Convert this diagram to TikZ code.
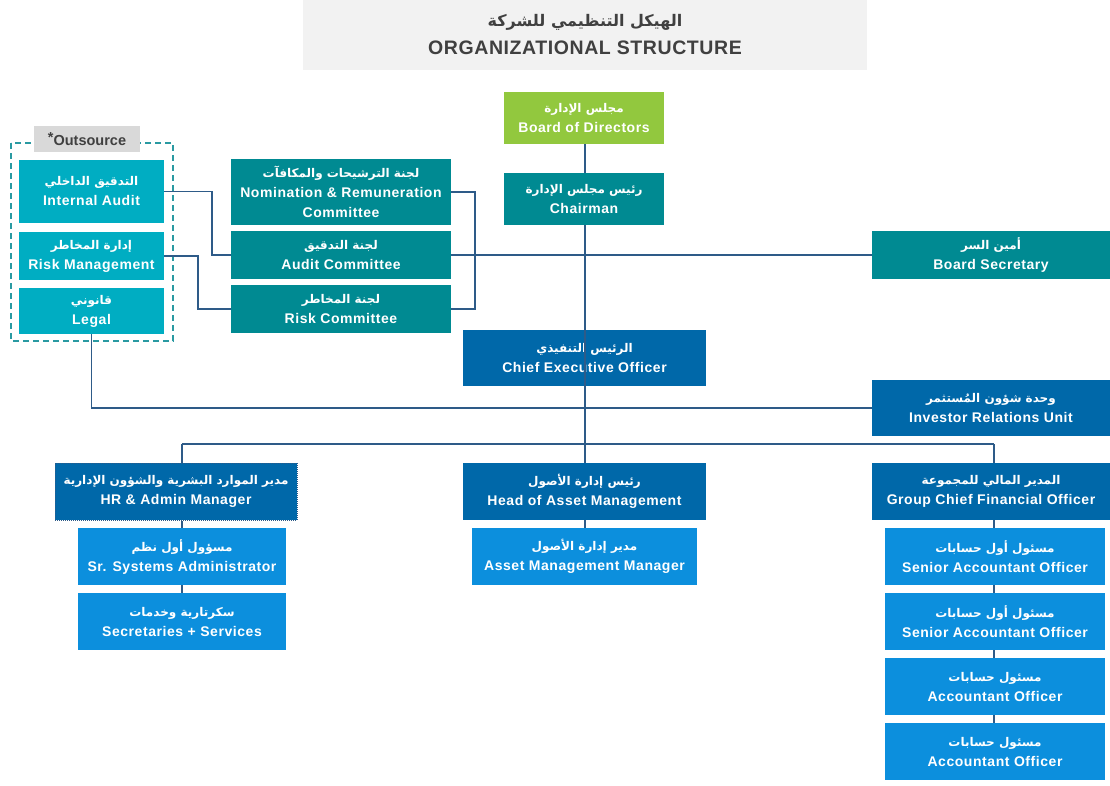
\documentclass[tikz,border=0pt]{standalone}
\usepackage{fontspec}
\setmainfont{Liberation Sans}
\newfontfamily\arabicfont[Script=Arabic]{DejaVu Sans}
\TeXXeTstate=1
\newcommand\ar[1]{{\arabicfont\bfseries\fontsize{12}{20}\selectfont\beginR #1\endR}}
\definecolor{cgreen}{HTML}{92C83E}
\definecolor{cteal}{HTML}{008A92}
\definecolor{ccyan}{HTML}{00ADC2}
\definecolor{cblue}{HTML}{0068A9}
\definecolor{clight}{HTML}{0C8FDD}
\definecolor{cline}{HTML}{2E5B88}
\definecolor{cdash}{HTML}{2A9AA2}
\definecolor{ctitle}{HTML}{F2F2F2}
\definecolor{ctext}{HTML}{404040}
\tikzset{
  box/.style={rectangle, inner sep=0pt, text=white, align=center,
    font=\bfseries\fontsize{14}{20}\selectfont\addfontfeature{LetterSpace=4}},
  link/.style={draw=cline, line width=1.6pt},
}
\begin{document}
\begin{tikzpicture}[x=1pt,y=-1pt]
\useasboundingbox (0,0) rectangle (1110,785);
% title
\node[rectangle, fill=ctitle, minimum width=564pt, minimum height=70pt, inner sep=0pt, align=center, text=ctext,
  font=\bfseries\fontsize{19.5}{28}\selectfont\addfontfeature{LetterSpace=3}] (title) at (585,35)
  {{\arabicfont\fontsize{16}{28}\selectfont\beginR الهيكل التنظيمي للشركة\endR}\\ORGANIZATIONAL STRUCTURE};
% outsource frame
\draw[cdash, line width=1.5pt, dash pattern=on 6pt off 4pt] (11,143) rectangle (173,341);
\node[rectangle, fill=black!15, minimum width=106pt, minimum height=26pt, inner sep=0pt, text=ctext,
  font=\bfseries\fontsize{14.5}{16}\selectfont] (outl) at (87,139) {\raisebox{3pt}{*}Outsource};
% board side
\node[box, fill=cgreen, minimum width=160pt, minimum height=52pt] (board) at (584,118) {\ar{مجلس الإدارة}\\Board of Directors};
\node[box, fill=cteal, minimum width=160pt, minimum height=52pt] (chair) at (584,199) {\ar{رئيس مجلس الإدارة}\\Chairman};
\node[box, fill=cteal, minimum width=220pt, minimum height=66pt] (nrc) at (341,192) {\ar{لجنة الترشيحات والمكافآت}\\Nomination \& Remuneration\\Committee};
\node[box, fill=cteal, minimum width=220pt, minimum height=48pt] (audc) at (341,255) {\ar{لجنة التدقيق}\\Audit Committee};
\node[box, fill=cteal, minimum width=220pt, minimum height=48pt] (riskc) at (341,309) {\ar{لجنة المخاطر}\\Risk Committee};
\node[box, fill=cteal, minimum width=238pt, minimum height=48pt] (bsec) at (991,255) {\ar{أمين السر}\\Board Secretary};
\node[box, fill=ccyan, minimum width=145pt, minimum height=63pt] (ia) at (91.5,191.5) {\ar{التدقيق الداخلي}\\Internal Audit};
\node[box, fill=ccyan, minimum width=145pt, minimum height=48pt] (rm) at (91.5,256) {\ar{إدارة المخاطر}\\Risk Management};
\node[box, fill=ccyan, minimum width=145pt, minimum height=46pt] (legal) at (91.5,311) {\ar{قانوني}\\Legal};
% executive
\node[box, fill=cblue, minimum width=243pt, minimum height=56pt] (ceo) at (584.5,358) {\ar{الرئيس التنفيذي}\\Chief Executive Officer};
\node[box, fill=cblue, minimum width=238pt, minimum height=56pt] (iru) at (991,408) {\ar{وحدة شؤون المُستثمر}\\Investor Relations Unit};
\node[box, fill=cblue, draw=cline, densely dotted, line width=1pt, minimum width=242pt, minimum height=57pt] (hr) at (176,491.5) {\ar{مدير الموارد البشرية والشؤون الإدارية}\\HR \& Admin Manager};
\node[box, fill=cblue, minimum width=243pt, minimum height=57pt] (ham) at (584.5,491.5) {\ar{رئيس إدارة الأصول}\\Head of Asset Management};
\node[box, fill=cblue, minimum width=238pt, minimum height=57pt] (cfo) at (991,491.5) {\ar{المدير المالي للمجموعة}\\Group Chief Financial Officer};
% staff
\node[box, fill=clight, minimum width=208pt, minimum height=57pt] (ssa) at (182,556.5) {\ar{مسؤول أول نظم}\\Sr. Systems Administrator};
\node[box, fill=clight, minimum width=208pt, minimum height=57pt] (sec) at (182,621.5) {\ar{سكرتارية وخدمات}\\Secretaries + Services};
\node[box, fill=clight, minimum width=225pt, minimum height=57pt] (amm) at (584.5,556.5) {\ar{مدير إدارة الأصول}\\Asset Management Manager};
\node[box, fill=clight, minimum width=220pt, minimum height=57pt] (sao1) at (995,556.5) {\ar{مسئول أول حسابات}\\Senior Accountant Officer};
\node[box, fill=clight, minimum width=220pt, minimum height=57pt] (sao2) at (995,621.5) {\ar{مسئول أول حسابات}\\Senior Accountant Officer};
\node[box, fill=clight, minimum width=220pt, minimum height=57pt] (ao1) at (995,686.5) {\ar{مسئول حسابات}\\Accountant Officer};
\node[box, fill=clight, minimum width=220pt, minimum height=57pt] (ao2) at (995,751.5) {\ar{مسئول حسابات}\\Accountant Officer};
% coordinates
\coordinate (busL) at (182,444);
\coordinate (busM) at (585,444);
\coordinate (busR) at (994,444);
\coordinate (ka) at (212,255);
\coordinate (kr) at (198,309);
\coordinate (kn) at (475,309);
% connectors
\draw[link] (board.south -| busM) -- (chair.north -| busM);
\draw[link] (chair.south -| busM) -- (busM);
\draw[link] (busL) -- (busR);
\draw[link] (busL) -- (hr.north -| busL);
\draw[link] (busM) -- (ham.north -| busM);
\draw[link] (busR) -- (cfo.north -| busR);
\draw[link] (hr.south -| busL) -- (ssa.north -| busL);
\draw[link] (ssa.south -| busL) -- (sec.north -| busL);
\draw[link] (ham.south -| busM) -- (amm.north -| busM);
\draw[link] (cfo.south -| busR) -- (sao1.north -| busR);
\draw[link] (sao1.south -| busR) -- (sao2.north -| busR);
\draw[link] (sao2.south -| busR) -- (ao1.north -| busR);
\draw[link] (ao1.south -| busR) -- (ao2.north -| busR);
\draw[link] (legal.south) |- (iru.west);
\draw[link] (audc.east) -- (bsec.west);
\draw[link] (ia.east) -| (ka) -- (audc.west);
\draw[link] (rm.east) -| (kr) -- (riskc.west);
\draw[link] (nrc.east) -| (kn) -- (riskc.east);
\end{tikzpicture}
\end{document}
